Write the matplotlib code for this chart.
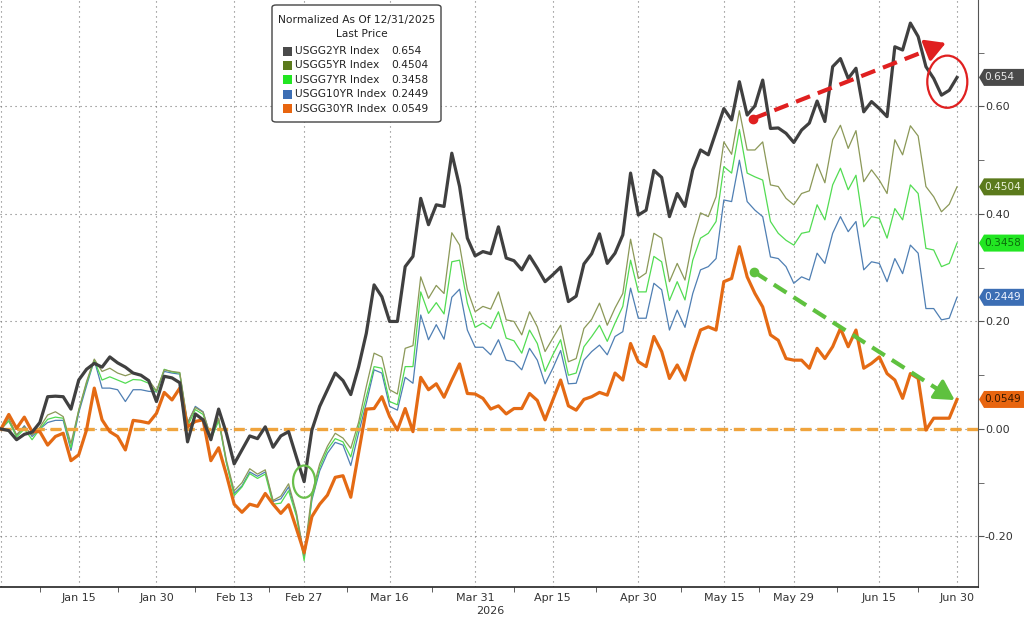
import numpy as np
import pandas as pd
import matplotlib
matplotlib.use("Agg")
import matplotlib.pyplot as plt
from matplotlib.patches import Polygon, Ellipse, FancyBboxPatch, Rectangle

# trading days (US bond market holidays removed)
HOLIDAYS = ["2026-01-01", "2026-01-19", "2026-02-16", "2026-04-03", "2026-05-25", "2026-06-19"]
dates = pd.bdate_range("2025-12-31", "2026-06-30", freq="C", holidays=HOLIDAYS)

tick_dates = ["2026-01-15", "2026-01-30", "2026-02-13", "2026-02-27", "2026-03-16", "2026-03-31",
              "2026-04-15", "2026-04-30", "2026-05-15", "2026-05-29", "2026-06-15", "2026-06-30"]

usgg2 = [0.000, -0.003, -0.020, -0.010, -0.006, 0.012, 0.060, 0.061, 0.060, 0.037,
         0.091, 0.111, 0.122, 0.115, 0.134, 0.123, 0.115, 0.104, 0.100, 0.090,
         0.051, 0.098, 0.095, 0.086, -0.024, 0.028, 0.017, -0.020, 0.037, -0.008,
         -0.065, -0.039, -0.013, -0.018, 0.004, -0.034, -0.013, -0.005, -0.052, -0.098,
         -0.002, 0.042, 0.073, 0.104, 0.090, 0.064, 0.115, 0.178, 0.268, 0.246,
         0.200, 0.200, 0.302, 0.321, 0.429, 0.380, 0.417, 0.414, 0.513, 0.451,
         0.355, 0.322, 0.330, 0.326, 0.376, 0.318, 0.313, 0.296, 0.322, 0.299,
         0.274, 0.287, 0.301, 0.237, 0.247, 0.307, 0.326, 0.363, 0.308, 0.327,
         0.361, 0.476, 0.398, 0.407, 0.481, 0.468, 0.395, 0.438, 0.414, 0.482,
         0.519, 0.510, 0.553, 0.596, 0.575, 0.646, 0.584, 0.601, 0.649, 0.559,
         0.560, 0.550, 0.533, 0.556, 0.569, 0.610, 0.572, 0.674, 0.689, 0.652,
         0.671, 0.590, 0.609, 0.596, 0.581, 0.711, 0.705, 0.755, 0.730, 0.674,
         0.652, 0.621, 0.630, 0.654]

usgg5 = [0.000, 0.020, -0.011, 0.004, -0.011, 0.003, 0.026, 0.032, 0.023, -0.027,
         0.035, 0.088, 0.130, 0.107, 0.113, 0.104, 0.099, 0.104, 0.100, 0.091,
         0.071, 0.110, 0.107, 0.105, 0.012, 0.040, 0.031, -0.014, 0.020, -0.058,
         -0.115, -0.100, -0.074, -0.084, -0.076, -0.133, -0.125, -0.102, -0.155, -0.235,
         -0.120, -0.065, -0.032, -0.008, -0.017, -0.036, 0.012, 0.079, 0.141, 0.134,
         0.073, 0.065, 0.150, 0.155, 0.283, 0.243, 0.267, 0.252, 0.365, 0.342,
         0.259, 0.218, 0.228, 0.223, 0.255, 0.203, 0.200, 0.175, 0.218, 0.190,
         0.144, 0.169, 0.193, 0.125, 0.131, 0.187, 0.204, 0.234, 0.193, 0.225,
         0.252, 0.353, 0.280, 0.290, 0.364, 0.355, 0.274, 0.308, 0.277, 0.352,
         0.402, 0.395, 0.432, 0.534, 0.511, 0.592, 0.519, 0.519, 0.534, 0.454,
         0.451, 0.429, 0.417, 0.438, 0.443, 0.493, 0.458, 0.538, 0.565, 0.522,
         0.555, 0.460, 0.482, 0.463, 0.438, 0.538, 0.510, 0.564, 0.545, 0.451,
         0.432, 0.404, 0.418, 0.4504]

usgg7 = [0.000, 0.015, -0.015, 0.000, -0.020, 0.000, 0.018, 0.022, 0.020, -0.035,
         0.035, 0.085, 0.128, 0.091, 0.097, 0.091, 0.085, 0.092, 0.091, 0.085,
         0.069, 0.111, 0.106, 0.104, 0.005, 0.036, 0.027, -0.020, 0.015, -0.063,
         -0.124, -0.108, -0.083, -0.092, -0.084, -0.140, -0.138, -0.115, -0.162, -0.245,
         -0.128, -0.072, -0.038, -0.018, -0.024, -0.052, 0.004, 0.060, 0.116, 0.113,
         0.051, 0.045, 0.116, 0.116, 0.255, 0.215, 0.235, 0.214, 0.311, 0.314,
         0.234, 0.189, 0.197, 0.187, 0.218, 0.169, 0.164, 0.141, 0.184, 0.159,
         0.107, 0.138, 0.166, 0.100, 0.104, 0.153, 0.172, 0.193, 0.163, 0.197,
         0.228, 0.314, 0.255, 0.255, 0.321, 0.311, 0.239, 0.274, 0.240, 0.314,
         0.355, 0.364, 0.386, 0.488, 0.476, 0.557, 0.476, 0.469, 0.463, 0.386,
         0.364, 0.351, 0.342, 0.364, 0.367, 0.417, 0.389, 0.454, 0.485, 0.445,
         0.472, 0.376, 0.395, 0.392, 0.355, 0.410, 0.389, 0.454, 0.438, 0.336,
         0.333, 0.302, 0.308, 0.3458]

usgg10 = [0.000, 0.015, -0.012, 0.006, -0.014, 0.000, 0.012, 0.016, 0.016, -0.040,
          0.030, 0.080, 0.128, 0.076, 0.076, 0.073, 0.051, 0.073, 0.073, 0.070,
          0.069, 0.107, 0.104, 0.102, 0.010, 0.042, 0.032, -0.017, 0.018, -0.062,
          -0.120, -0.106, -0.080, -0.088, -0.080, -0.135, -0.130, -0.108, -0.158, -0.240,
          -0.132, -0.078, -0.045, -0.025, -0.030, -0.068, -0.008, 0.048, 0.110, 0.104,
          0.042, 0.035, 0.096, 0.085, 0.212, 0.166, 0.194, 0.167, 0.245, 0.260,
          0.184, 0.152, 0.152, 0.138, 0.166, 0.128, 0.125, 0.110, 0.150, 0.128,
          0.084, 0.113, 0.146, 0.084, 0.085, 0.128, 0.144, 0.156, 0.138, 0.172,
          0.181, 0.262, 0.206, 0.206, 0.271, 0.259, 0.184, 0.221, 0.189, 0.252,
          0.296, 0.302, 0.317, 0.426, 0.423, 0.500, 0.423, 0.407, 0.395, 0.320,
          0.317, 0.302, 0.271, 0.283, 0.277, 0.327, 0.308, 0.364, 0.395, 0.367,
          0.386, 0.296, 0.311, 0.308, 0.274, 0.317, 0.289, 0.342, 0.327, 0.224,
          0.224, 0.203, 0.206, 0.2449]

usgg30 = [0.000, 0.027, 0.001, 0.022, -0.005, -0.005, -0.030, -0.014, -0.008, -0.059,
          -0.048, -0.002, 0.076, 0.017, -0.005, -0.014, -0.039, 0.016, 0.014, 0.011,
          0.029, 0.068, 0.054, 0.076, 0.004, 0.014, 0.017, -0.059, -0.035, -0.085,
          -0.140, -0.155, -0.140, -0.144, -0.120, -0.140, -0.157, -0.141, -0.185, -0.230,
          -0.163, -0.140, -0.123, -0.090, -0.087, -0.127, -0.045, 0.037, 0.038, 0.060,
          0.023, -0.002, 0.038, -0.005, 0.096, 0.073, 0.084, 0.059, 0.091, 0.121,
          0.066, 0.065, 0.057, 0.037, 0.043, 0.028, 0.038, 0.038, 0.066, 0.053,
          0.017, 0.054, 0.091, 0.043, 0.035, 0.055, 0.060, 0.068, 0.063, 0.104,
          0.091, 0.159, 0.125, 0.116, 0.172, 0.144, 0.094, 0.119, 0.091, 0.141,
          0.184, 0.190, 0.184, 0.274, 0.280, 0.339, 0.283, 0.252, 0.227, 0.175,
          0.165, 0.131, 0.128, 0.128, 0.113, 0.150, 0.131, 0.153, 0.187, 0.153,
          0.184, 0.113, 0.122, 0.134, 0.103, 0.091, 0.057, 0.103, 0.094, -0.002,
          0.020, 0.020, 0.020, 0.0549]

names = ["USGG2YR Index", "USGG5YR Index", "USGG7YR Index", "USGG10YR Index", "USGG30YR Index"]
last = ["0.654", "0.4504", "0.3458", "0.2449", "0.0549"]
swatch = ["#4a4a4a", "#5b7a1c", "#22e622", "#3c6eb4", "#e8650f"]
tag_text = ["#e8e8e8", "#e8f0d8", "#0b6e0b", "#f0f4ff", "#3a1a00"]

W, H = 1024, 618
fig = plt.figure(figsize=(W / 100, H / 100), dpi=100)
fig.patch.set_facecolor("white")
ax = fig.add_axes([0, 31 / H, 978 / W, 587 / H])

x = np.arange(len(dates))
ax.set_xlim(-0.13, 125.7)
ax.set_ylim(-0.294, 0.798)

# series: thin ones first, thick on top
ax.plot(x, usgg10, color="#4f7fb3", lw=0.9, zorder=3)
ax.plot(x, usgg7, color="#52dc52", lw=0.9, zorder=3)
ax.plot(x, usgg5, color="#8b9858", lw=0.9, zorder=3)
ax.axhline(0, color="#f0a43c", lw=2.4, ls=(0, (3.3, 1.7)), zorder=3.5)
ax.plot(x, usgg30, color="#e46a14", lw=2.3, zorder=4)
ax.plot(x, usgg2, color="#404040", lw=2.3, zorder=4.5)

# axes styling
pos = [dates.get_loc(pd.Timestamp(d)) for d in tick_dates]
ax.set_xticks(pos)
ax.set_xticklabels([pd.Timestamp(d).strftime("%b %d").replace(" 0", " ") for d in tick_dates])
mids = [(a + b) / 2 for a, b in zip([0] + pos[:-1], pos)]
ax.set_xticks(mids, minor=True)
ax.set_yticks([-0.2, 0.0, 0.2, 0.4, 0.6])
ax.set_yticklabels(["-0.20", "0.00", "0.20", "0.40", "0.60"])
ax.set_yticks([-0.1, 0.1, 0.3, 0.5, 0.7], minor=True)
ax.yaxis.tick_right()
ax.tick_params(axis="x", which="major", length=0, pad=4, labelsize=8, labelcolor="#333333")
ax.tick_params(axis="x", which="minor", length=3.5, color="#444444")
ax.tick_params(axis="y", which="both", length=4, color="#555555", pad=1,
               labelsize=8, labelcolor="#333333")
ax.grid(True, which="major", color="#777777", lw=0.8, ls=(0, (1, 3.5)))
ax.axvline(0, color="#777777", lw=0.8, ls=(0, (1, 3.5)))
for s in ["left", "top"]:
    ax.spines[s].set_visible(False)
ax.spines["right"].set_color("#555555")
ax.spines["bottom"].set_color("#222222")
ax.spines["bottom"].set_linewidth(1.2)

fig.text(490 / W, 1 - 611 / H, "2026", ha="center", va="center", fontsize=8, color="#333333")

# annotations
red = "#e02020"
green = "#5fc13f"
for (x0, y0, x1, y1, c) in [(96.7, 0.577, 121.9, 0.720, red), (96.9, 0.292, 123.0, 0.051, green)]:
    ax.plot([x0, x0 + 0.9 * (x1 - x0)], [y0, y0 + 0.9 * (y1 - y0)], color=c, lw=3.0,
            ls=(0, (3.6, 2.0)), zorder=6)
    ax.plot([x0], [y0], "o", color=c, ms=6, zorder=6)
    ax.annotate("", xy=(x1, y1), xytext=(x0 + 0.88 * (x1 - x0), y0 + 0.88 * (y1 - y0)),
                arrowprops=dict(arrowstyle="-|>,head_length=0.8,head_width=0.45",
                                color=c, lw=2.5, mutation_scale=15), zorder=6)
ax.add_patch(Ellipse((121.75, 0.646), 5.15, 0.097, fill=False, ec=red, lw=1.6, zorder=6))
ax.add_patch(Ellipse((39.0, -0.098), 2.85, 0.060, fill=False, ec="#6abf4b", lw=1.6, zorder=6))

# last-price tags on the right
fig.canvas.draw()
for val, fc, tc in zip(last, swatch, tag_text):
    py = ax.transData.transform((0, float(val)))[1]
    x0, tip, w, h = 979, 5, 46, 17
    pts = [(x0, py), (x0 + tip, py + h / 2), (x0 + w, py + h / 2), (x0 + w, py - h / 2),
           (x0 + tip, py - h / 2)]
    fig.patches.append(Polygon([(a / W, b / H) for a, b in pts], closed=True,
                               transform=fig.transFigure, fc=fc, ec="none"))
    fig.text((x0 + tip) / W, py / H, val, va="center", ha="left", fontsize=7.6, color=tc)

# legend box
fig.patches.append(FancyBboxPatch((272 / W, 1 - 122 / H), 169 / W, 117 / H,
                                  boxstyle="round,pad=0,rounding_size=0.004",
                                  transform=fig.transFigure, fc="white", ec="#444444", lw=1))
fig.text(278 / W, 1 - 20 / H, "Normalized As Of 12/31/2025", va="center", fontsize=7.7,
         color="#222222")
fig.text(362 / W, 1 - 34 / H, "Last Price", ha="center", va="center", fontsize=7.7,
         color="#222222")
for k, (nm, val, c) in enumerate(zip(names, last, swatch)):
    yy = 51 + 14.4 * k
    fig.patches.append(Rectangle((283 / W, 1 - (yy + 4.5) / H), 9 / W, 9 / H,
                                 transform=fig.transFigure, fc=c, ec="none"))
    fig.text(295 / W, 1 - yy / H, nm, va="center", fontsize=7.7, color="#222222")
    fig.text(391 / W, 1 - yy / H, val, va="center", fontsize=7.7, color="#222222")

fig.savefig("out.png", dpi=100)
